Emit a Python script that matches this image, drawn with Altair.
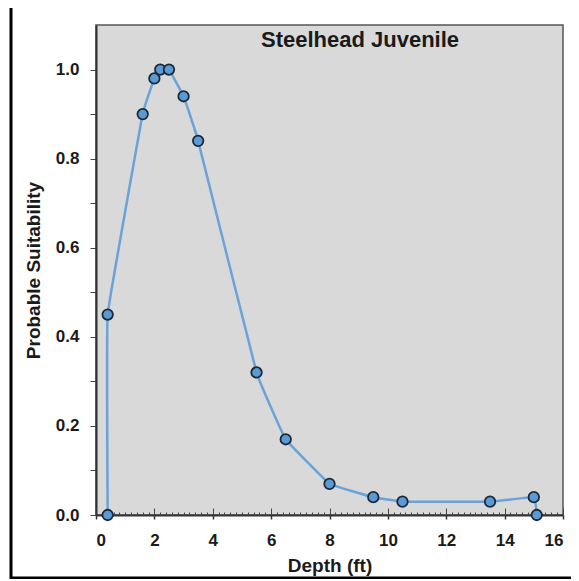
import altair as alt
import pandas as pd

# ---- data ----
depth = [0.4, 0.4, 1.6, 2.0, 2.2, 2.5, 3.0, 3.5, 5.5, 6.5, 8.0, 9.5, 10.5, 13.5, 15.0, 15.1]
suitability = [0.0, 0.45, 0.90, 0.98, 1.0, 1.0, 0.94, 0.84, 0.32, 0.17, 0.07, 0.04, 0.03, 0.03, 0.04, 0.0]
order = list(range(len(depth)))
x_major = [0, 2, 4, 6, 8, 10, 12, 14, 16]
x_minor = [round(i * 0.2, 1) for i in range(81)]
y_ticks = [round(i * 0.05, 2) for i in range(22)]
title_text = "Steelhead Juvenile"
x_title = "Depth (ft)"
y_title = "Probable Suitability"

df = pd.DataFrame({"depth": depth, "suit": suitability, "ord": order})

FONT = "Liberation Sans"
TXT = "#1a1a1a"
W, H = 467, 490

xscale = alt.Scale(domain=[0, 16], nice=False, zero=False)
yscale = alt.Scale(domain=[0, 1.1], nice=False, zero=False)

x_axis_bottom = alt.Axis(
    values=x_major, format="d", title=x_title, ticks=True, tickSize=4,
    tickColor="#333", tickWidth=1.5,
    labelFont=FONT, labelFontSize=17, labelFontWeight="bold", labelColor=TXT,
    labelPadding=13, titleFont=FONT, titleFontSize=19, titleFontWeight="bold",
    titleColor=TXT, titlePadding=8, domainColor="#333", domainWidth=2, grid=False,
)
x_axis_inner = alt.Axis(
    orient="top", offset=-H, values=x_minor, labels=False, title=None, domain=False,
    grid=False, tickColor="#444", tickWidth=1,
    tickSize={"condition": {"test": "abs(datum.value/2 - round(datum.value/2)) < 0.001", "value": 7}, "value": 3},
)
y_axis = alt.Axis(
    values=y_ticks, title=y_title, tickSize=6, tickColor="#444", tickWidth=1,
    labelExpr="abs(datum.value*5 - round(datum.value*5)) < 0.001 ? format(datum.value, '.1f') : ''",
    labelFont=FONT, labelFontSize=17, labelFontWeight="bold", labelColor=TXT,
    labelPadding=11, titleFont=FONT, titleFontSize=19, titleFontWeight="bold",
    titleColor=TXT, titlePadding=12, domainColor="#333", domainWidth=2, grid=False,
)

line = alt.Chart(df).mark_line(
    color="#6ba3d8", strokeWidth=2.5, interpolate="cardinal", tension=0.8
).encode(
    x=alt.X("depth:Q", scale=xscale, axis=x_axis_bottom),
    y=alt.Y("suit:Q", scale=yscale, axis=y_axis),
    order="ord:Q",
)

points = alt.Chart(df).mark_point(
    filled=True, fill="#5b9bd5", stroke="#1c2a38", strokeWidth=1.8, size=110, opacity=1
).encode(
    x=alt.X("depth:Q", scale=xscale, axis=x_axis_inner),
    y=alt.Y("suit:Q", scale=yscale),
)

title = alt.Chart(alt.Data(values=[{"t": title_text}])).mark_text(
    font=FONT, fontSize=22, fontWeight="bold", color=TXT, align="center", baseline="middle"
).encode(x=alt.value(264), y=alt.value(15), text="t:N")

one = alt.Data(values=[{"a": 0}])
frame_left = alt.Chart(one).mark_rule(color="#000", strokeWidth=3).encode(
    x=alt.value(-85), y=alt.value(-23), y2=alt.value(554))
frame_top = alt.Chart(one).mark_rule(color="#000", strokeWidth=3).encode(
    x=alt.value(-86), x2=alt.value(500), y=alt.value(-22))
frame_bottom = alt.Chart(one).mark_rule(color="#000", strokeWidth=3).encode(
    x=alt.value(-86), x2=alt.value(500), y=alt.value(553))

chart = alt.layer(line, points, title, frame_left, frame_top, frame_bottom).resolve_axis(
    x="independent"
).properties(
    width=W, height=H,
    autosize=alt.AutoSizeParams(type="none"),
    padding={"left": 88, "top": 17, "right": 8, "bottom": 64},
    background="white",
).configure_view(fill="#d9d9d9", stroke="#555", strokeWidth=1.5)

chart.save("out.html", embed_options={"renderer": "svg", "actions": False})
